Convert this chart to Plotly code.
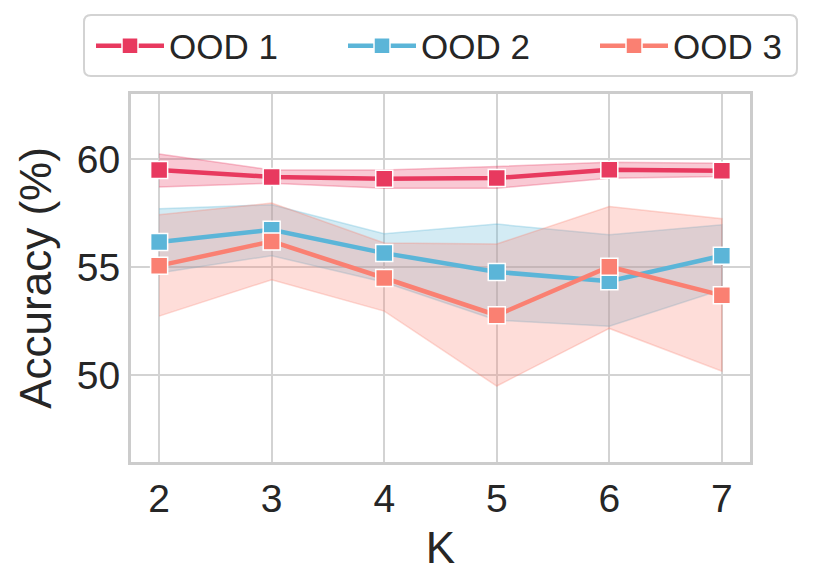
import plotly.graph_objects as go

K = [2, 3, 4, 5, 6, 7]

ood1_mean = [59.49, 59.17, 59.08, 59.12, 59.50, 59.45]
ood1_upper = [60.23, 59.49, 59.49, 59.65, 59.85, 59.80]
ood1_lower = [58.70, 58.88, 58.65, 58.65, 59.11, 59.19]

ood2_mean = [56.16, 56.73, 55.65, 54.78, 54.35, 55.53]
ood2_upper = [57.70, 57.88, 56.54, 56.99, 56.50, 56.96]
ood2_lower = [54.73, 55.53, 54.30, 52.55, 52.27, 53.96]

ood3_mean = [55.07, 56.19, 54.50, 52.78, 55.02, 53.70]
ood3_upper = [57.42, 57.96, 56.12, 56.07, 57.80, 57.24]
ood3_lower = [52.74, 54.42, 52.97, 49.51, 52.17, 50.20]

series = [
    ("OOD 1", ood1_mean, ood1_upper, ood1_lower, (232, 57, 95)),
    ("OOD 2", ood2_mean, ood2_upper, ood2_lower, (91, 181, 216)),
    ("OOD 3", ood3_mean, ood3_upper, ood3_lower, (250, 128, 114)),
]

# figure geometry (page has an 8px body margin)
W, H = 807, 578
L, R, T, B = 123, 65, 86, 124
PW, PH = W - L - R, H - T - B

fig = go.Figure()

for name, mean, up, lo, (r, g, b) in series:
    fig.add_trace(go.Scatter(
        x=K + K[::-1], y=up + lo[::-1],
        fill="toself", fillcolor=f"rgba({r},{g},{b},0.27)",
        line=dict(color=f"rgba({r},{g},{b},0.3)", width=1.5),
        mode="lines", hoverinfo="skip", showlegend=False,
    ))

legend_ids = ["legend", "legend2", "legend3"]
for i, (name, mean, up, lo, (r, g, b)) in enumerate(series):
    fig.add_trace(go.Scatter(
        x=K, y=mean, name=name, mode="lines+markers",
        line=dict(color=f"rgb({r},{g},{b})", width=4.5),
        marker=dict(symbol="square", size=17, color=f"rgb({r},{g},{b})",
                    line=dict(color="white", width=1.5)),
        legend=legend_ids[i],
    ))

font = "Liberation Sans, Arial, sans-serif"

def px_x(p):
    return (p - L) / PW

def px_y(p):
    return (H - B - p) / PH

legend_common = dict(
    orientation="h", xanchor="left", yanchor="middle",
    font=dict(size=35, family=font, color="#262626"),
    borderwidth=0, bgcolor="rgba(0,0,0,0)", itemwidth=68,
)
legends = {}
for i, lid in enumerate(legend_ids):
    legends[lid] = dict(legend_common, x=px_x(83 + 252 * i), y=px_y(38))

# rounded legend frame
x0, x1 = px_x(76), px_x(789)
y0, y1 = px_y(68), px_y(7)
rx, ry = 7 / PW, 7 / PH
path = (f"M{x0+rx},{y1} L{x1-rx},{y1} Q{x1},{y1} {x1},{y1-ry} "
        f"L{x1},{y0+ry} Q{x1},{y0} {x1-rx},{y0} L{x0+rx},{y0} "
        f"Q{x0},{y0} {x0},{y0+ry} L{x0},{y1-ry} Q{x0},{y1} {x0+rx},{y1} Z")

fig.update_layout(
    width=W, height=H,
    margin=dict(l=L, r=R, t=T, b=B, autoexpand=False),
    paper_bgcolor="white", plot_bgcolor="white",
    font=dict(family=font, color="#262626"),
    showlegend=True,
    shapes=[dict(type="path", xref="paper", yref="paper", path=path,
                 line=dict(color="#d3d3d3", width=2), fillcolor="white",
                 layer="above")],
    xaxis=dict(
        range=[1.75, 7.25], tickvals=K, ticktext=[str(k) for k in K],
        showgrid=True, gridcolor="#d3d3d3", gridwidth=2,
        showline=True, mirror=True, linecolor="#cccccc", linewidth=3,
        zeroline=False, ticks="", tickfont=dict(size=39), automargin=False,
        title=dict(text="K", font=dict(size=44), standoff=14),
    ),
    yaxis=dict(
        range=[46.0, 63.0], tickvals=[50, 55, 60],
        showgrid=True, gridcolor="#d3d3d3", gridwidth=2,
        showline=True, mirror=True, linecolor="#cccccc", linewidth=3,
        zeroline=False, ticks="", tickfont=dict(size=39), automargin=False,
        title=dict(text="Accuracy (%)", font=dict(size=44), standoff=12),
    ),
    **legends,
)

fig.write_html("out.html")
